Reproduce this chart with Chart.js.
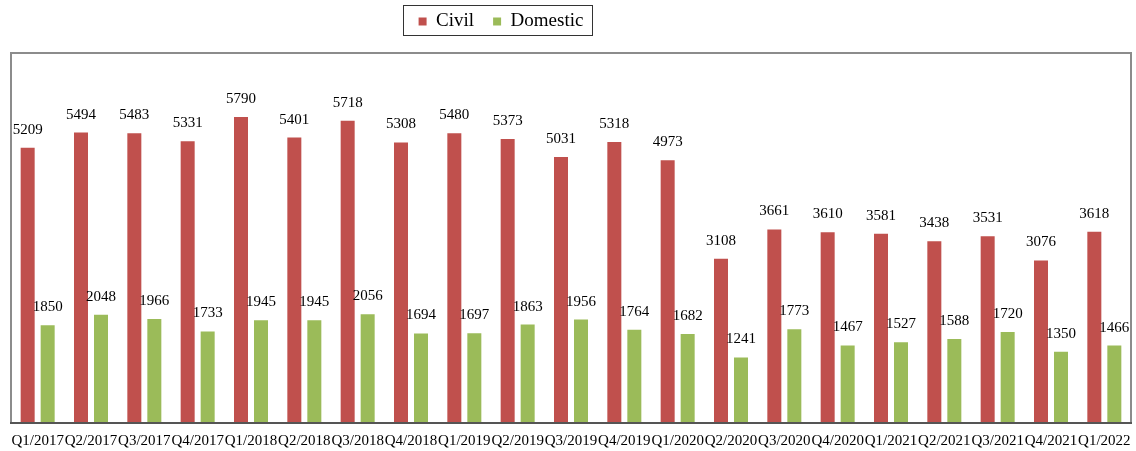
<!DOCTYPE html>
<html>
<head>
<meta charset="utf-8">
<script src="https://cdn.jsdelivr.net/npm/chart.js@4.4.1/dist/chart.umd.min.js"></script>
<style>
  html, body { margin: 0; padding: 0; background: #fff; }
  #wrap { width: 1136px; height: 451px; position: relative; }
</style>
</head>
<body>
<div id="wrap"><canvas id="chart"></canvas></div>
<script>
const quarters = ['Q1/2017','Q2/2017','Q3/2017','Q4/2017','Q1/2018','Q2/2018','Q3/2018','Q4/2018',
  'Q1/2019','Q2/2019','Q3/2019','Q4/2019','Q1/2020','Q2/2020','Q3/2020','Q4/2020',
  'Q1/2021','Q2/2021','Q3/2021','Q4/2021','Q1/2022'];
const civil = [5209,5494,5483,5331,5790,5401,5718,5308,5480,5373,5031,5318,4973,3108,3661,3610,3581,3438,3531,3076,3618];
const domestic = [1850,2048,1966,1733,1945,1945,2056,1694,1697,1863,1956,1764,1682,1241,1773,1467,1527,1588,1720,1350,1466];

const serif = '"Liberation Serif", "Times New Roman", serif';

// etiquetas encima de cada barra
const valueLabels = {
  id: 'valueLabels',
  afterDatasetsDraw(chart) {
    const ctx = chart.ctx;
    ctx.save();
    ctx.font = '15px ' + serif;
    ctx.fillStyle = '#000';
    ctx.textAlign = 'center';
    ctx.textBaseline = 'alphabetic';
    chart.data.datasets.forEach((ds, i) => {
      chart.getDatasetMeta(i).data.forEach((bar, j) => {
        ctx.fillText(ds.data[j], bar.x, bar.y - 14);
      });
    });
    ctx.restore();
  }
};

// mover la leyenda un poco arriba y a la izquierda, como en el original
const legendShift = {
  id: 'legendShift',
  afterLayout(chart) {
    const lg = chart.legend;
    lg.top -= 12;
    lg.bottom -= 12;
    lg.right -= 140;
    lg.width -= 140;
  }
};

// marco del área del gráfico y de la leyenda
const frames = {
  id: 'frames',
  beforeDraw(chart) {
    const ctx = chart.ctx;
    const a = chart.chartArea;
    ctx.save();
    ctx.strokeStyle = '#8c8c8c';
    ctx.lineWidth = 2;
    ctx.strokeRect(a.left, a.top, a.right - a.left, a.bottom - a.top);
    ctx.restore();
  },
  afterDraw(chart) {
    const ctx = chart.ctx;
    const a = chart.chartArea;
    ctx.save();
    ctx.strokeStyle = '#555';
    ctx.lineWidth = 2;
    ctx.beginPath();
    ctx.moveTo(a.left - 1, a.bottom);
    ctx.lineTo(a.right + 1, a.bottom);
    ctx.stroke();
    // recuadro de la leyenda
    const boxes = chart.legend.legendHitBoxes;
    if (boxes && boxes.length) {
      const first = boxes[0];
      const last = boxes[boxes.length - 1];
      const x0 = Math.round(first.left) - 15.5;
      const x1 = Math.round(last.left + last.width) + 9.5;
      ctx.strokeStyle = '#333';
      ctx.lineWidth = 1;
      ctx.strokeRect(x0, 5.5, x1 - x0, 30);
    }
    ctx.restore();
  }
};

new Chart(document.getElementById('chart'), {
  type: 'bar',
  data: {
    labels: quarters,
    datasets: [
      { label: 'Civil', data: civil, backgroundColor: '#C0504D' },
      { label: 'Domestic', data: domestic, backgroundColor: '#9BBB59' }
    ]
  },
  options: {
    responsive: true,
    maintainAspectRatio: false,
    animation: false,
    layout: { autoPadding: false, padding: { left: 11, right: 5, top: 5, bottom: -8 } },
    datasets: { bar: { categoryPercentage: 0.75, barPercentage: 0.7 } },
    plugins: {
      legend: {
        position: 'top',
        labels: {
          font: { family: serif, size: 19 },
          color: '#000',
          boxWidth: 8,
          boxHeight: 8,
          padding: 19
        }
      },
      tooltip: { enabled: false }
    },
    scales: {
      x: {
        grid: { display: false, tickLength: 0 },
        border: { display: false },
        afterFit(scale) {
          scale.paddingLeft = 0;
          scale.paddingRight = 0;
        },
        ticks: {
          autoSkip: false,
          maxRotation: 0,
          minRotation: 0,
          padding: 9,
          color: '#000',
          font: { family: serif, size: 15 }
        }
      },
      y: {
        display: false,
        min: 0,
        max: 7000
      }
    }
  },
  plugins: [valueLabels, legendShift, frames]
});
</script>
</body>
</html>
